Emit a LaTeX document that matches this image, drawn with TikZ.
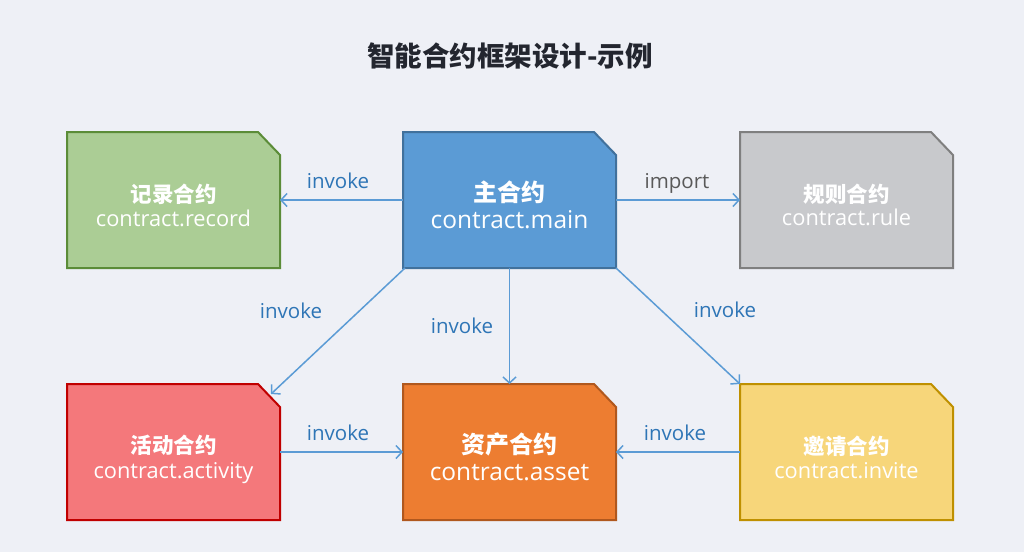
\documentclass[tikz,border=0pt]{standalone}
\usepackage{fontspec}
\setmainfont{Open Sans}
\newfontfamily\cjk{Noto Sans CJK SC}
\usetikzlibrary{arrows.meta}
\definecolor{bg}{HTML}{EEF0F6}
\definecolor{titlec}{HTML}{23262F}
\definecolor{arrc}{HTML}{5B9BD5}
\definecolor{lblc}{HTML}{2E75B6}
\definecolor{impc}{HTML}{595959}
\definecolor{recf}{HTML}{ABCD95}
\definecolor{recd}{HTML}{5B8C38}
\definecolor{mainf}{HTML}{5B9BD5}
\definecolor{maind}{HTML}{41719C}
\definecolor{rulef}{HTML}{C8C9CC}
\definecolor{ruled}{HTML}{7F7F7F}
\definecolor{actf}{HTML}{F4787B}
\definecolor{actd}{HTML}{C00000}
\definecolor{assf}{HTML}{ED7D31}
\definecolor{assd}{HTML}{B0581E}
\definecolor{invf}{HTML}{F7D67A}
\definecolor{invd}{HTML}{BF9000}
\tikzset{
  boxnode/.style={minimum width=213pt,minimum height=136pt,inner sep=0pt,outer sep=0pt},
  cnbig/.style={anchor=base,text=white,font=\cjk\bfseries\fontsize{24}{28}\selectfont},
  enbig/.style={anchor=base,text=white,font=\fontsize{24.5}{28}\selectfont},
  cnsmall/.style={anchor=base,text=white,font=\cjk\bfseries\fontsize{21.5}{25}\selectfont},
  ensmall/.style={anchor=base,text=white,font=\fontsize{21.8}{25}\selectfont},
  arr/.style={draw=arrc,line width=1.5pt,-{Straight Barb[length=6pt,width=13pt,line width=1.5pt]}},
  lbl/.style={anchor=base,text=lblc,font=\fontsize{20.5}{24}\selectfont},
}
\newcommand{\chamfer}[3]{%
  \draw[line width=2pt,fill=#2,draw=#3,line join=miter]
    (#1.north west) -- ([xshift=-22pt]#1.north east) -- ([yshift=-23pt]#1.north east)
    -- (#1.south east) -- (#1.south west) -- cycle;}
\begin{document}
\begin{tikzpicture}[x=1pt,y=-1pt]
\useasboundingbox (0,0) rectangle (1024,552);
\fill[bg] (0,0) rectangle (1024,552);
\node[anchor=base,text=titlec,font=\cjk\bfseries\fontsize{27.5}{30}\selectfont] (title) at (510,66) {智能合约框架设计-示例};
% boxes
\node[boxnode] (record) at (173.5,200) {};
\node[boxnode] (main) at (509.5,200) {};
\node[boxnode] (rule) at (846.5,200) {};
\node[boxnode] (activity) at (173.5,452) {};
\node[boxnode] (asset) at (509.5,452) {};
\node[boxnode] (invite) at (846.5,452) {};
\chamfer{record}{recf}{recd}
\chamfer{main}{mainf}{maind}
\chamfer{rule}{rulef}{ruled}
\chamfer{activity}{actf}{actd}
\chamfer{asset}{assf}{assd}
\chamfer{invite}{invf}{invd}
% texts
\node[cnsmall] (recordcn) at ([yshift=-70pt]record.north) {记录合约};
\node[ensmall] (recorden) at ([yshift=-94pt]record.north) {contract.record};
\node[cnbig] (maincn) at ([yshift=-69pt]main.north) {主合约};
\node[enbig] (mainen) at ([yshift=-96pt]main.north) {contract.main};
\node[cnsmall] (rulecn) at ([yshift=-70pt]rule.north) {规则合约};
\node[ensmall] (ruleen) at ([yshift=-93pt]rule.north) {contract.rule};
\node[cnsmall] (activitycn) at ([yshift=-69pt]activity.north) {活动合约};
\node[ensmall] (activityen) at ([yshift=-94pt]activity.north) {contract.activity};
\node[cnbig] (assetcn) at ([yshift=-69pt]asset.north) {资产合约};
\node[enbig] (asseten) at ([yshift=-96pt]asset.north) {contract.asset};
\node[cnsmall] (invitecn) at ([yshift=-70pt]invite.north) {邀请合约};
\node[ensmall] (inviteen) at ([yshift=-94pt]invite.north) {contract.invite};
% connectors
\draw[arr] (main.west) -- (record.east);
\draw[arr] (main.east) -- (rule.west);
\draw[arr] ([xshift=2pt]main.south west) -- ([xshift=-9pt,yshift=-10pt]activity.north east);
\draw[arr] (main.south) -- (asset.north);
\draw[arr] (main.south east) -- (invite.north west);
\draw[arr] (activity.east) -- (asset.west);
\draw[arr] (invite.west) -- (asset.east);
% labels
\node[lbl] (l1) at (338,188) {invoke};
\node[lbl,text=impc] (l2) at (677,188) {import};
\node[lbl] (l3) at (291,318) {invoke};
\node[lbl] (l4) at (462,333) {invoke};
\node[lbl] (l5) at (725,317) {invoke};
\node[lbl] (l6) at (338,440) {invoke};
\node[lbl] (l7) at (675,440) {invoke};
\end{tikzpicture}
\end{document}
